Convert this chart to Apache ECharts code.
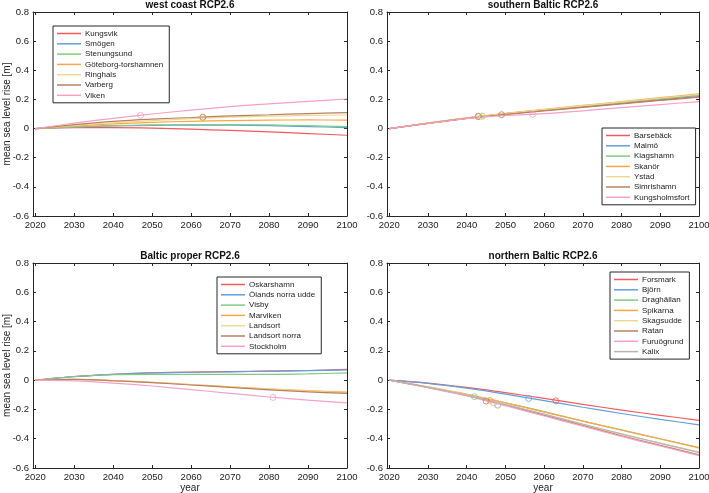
<!DOCTYPE html>
<html>
<head>
<meta charset="utf-8">
<script src="https://cdn.jsdelivr.net/npm/echarts@6/dist/echarts.min.js"></script>
<style>
  html, body { margin: 0; background: #fff; }
  #chart { width: 709px; height: 493px; }
</style>
</head>
<body>
<div id="chart"></div>
<script>
const YEARS = [2020, 2030, 2040, 2050, 2060, 2070, 2080, 2090, 2100];
const X_TICKS = [2020, 2030, 2040, 2050, 2060, 2070, 2080, 2090, 2100];
const COLORS = ['#f25a5d', '#62a0da', '#80cc80', '#ffa546', '#ecd990', '#b98062', '#f6a0c6', '#b5b5b5'];

// west coast
const WEST_NAMES = ['Kungsvik', 'Smögen', 'Stenungsund', 'Göteborg-torshamnen', 'Ringhals', 'Varberg', 'Viken'];
const WEST_VALUES = [
    [0, 0.006, 0.006, 0.003, -0.004, -0.013, -0.023, -0.034, -0.046],
    [0, 0.010, 0.018, 0.022, 0.024, 0.023, 0.020, 0.014, 0.006],
    [0, 0.012, 0.020, 0.025, 0.027, 0.027, 0.025, 0.020, 0.014],
    [0, 0.017, 0.032, 0.043, 0.050, 0.055, 0.058, 0.059, 0.058],
    [0, 0.022, 0.040, 0.055, 0.068, 0.078, 0.085, 0.090, 0.093],
    [0, 0.027, 0.050, 0.065, 0.076, 0.087, 0.095, 0.103, 0.109],
    [0, 0.037, 0.070, 0.100, 0.127, 0.150, 0.170, 0.187, 0.203],
];
// [station index, year, value]
const WEST_MARKS = [[4, 2063, 0.076], [5, 2063, 0.078], [6, 2047, 0.091]];

// southern Baltic
const SOUTH_NAMES = ['Barsebäck', 'Malmö', 'Klagshamn', 'Skanör', 'Ystad', 'Simrishamn', 'Kungsholmsfort'];
const SOUTH_VALUES = [
    [0, 0.036, 0.070, 0.098, 0.124, 0.149, 0.173, 0.197, 0.220],
    [0, 0.037, 0.072, 0.101, 0.128, 0.154, 0.179, 0.204, 0.228],
    [0, 0.037, 0.072, 0.102, 0.129, 0.155, 0.180, 0.205, 0.230],
    [0, 0.038, 0.074, 0.104, 0.132, 0.159, 0.185, 0.212, 0.238],
    [0, 0.037, 0.073, 0.103, 0.131, 0.157, 0.183, 0.209, 0.235],
    [0, 0.036, 0.070, 0.097, 0.122, 0.146, 0.170, 0.193, 0.215],
    [0, 0.035, 0.068, 0.090, 0.102, 0.122, 0.144, 0.165, 0.185],
];
const SOUTH_MARKS = [[0, 2043, 0.083], [1, 2043, 0.084], [3, 2043, 0.085], [2, 2044, 0.085], [4, 2044, 0.086], [5, 2049, 0.095], [6, 2057, 0.098]];

// Baltic proper
const PROPER_NAMES = ['Oskarshamn', 'Ölands norra udde', 'Visby', 'Marviken', 'Landsort', 'Landsort norra', 'Stockholm'];
const PROPER_VALUES = [
    [0, 0.025, 0.040, 0.050, 0.055, 0.058, 0.062, 0.066, 0.073],
    [0, 0.024, 0.039, 0.049, 0.054, 0.057, 0.061, 0.065, 0.070],
    [0, 0.025, 0.037, 0.040, 0.040, 0.040, 0.040, 0.043, 0.049],
    [0, 0.005, -0.003, -0.015, -0.030, -0.045, -0.060, -0.072, -0.082],
    [0, 0.005, -0.003, -0.016, -0.031, -0.047, -0.062, -0.075, -0.086],
    [0, 0.005, -0.004, -0.017, -0.033, -0.050, -0.066, -0.080, -0.091],
    [0, -0.005, -0.020, -0.040, -0.065, -0.090, -0.115, -0.137, -0.155],
];
const PROPER_MARKS = [[6, 2081, -0.118]];

// northern Baltic
const NORTH_NAMES = ['Forsmark', 'Björn', 'Draghällan', 'Spikarna', 'Skagsudde', 'Ratan', 'Furuögrund', 'Kalix'];
const NORTH_VALUES = [
    [0, -0.020, -0.050, -0.085, -0.125, -0.165, -0.205, -0.240, -0.275],
    [0, -0.022, -0.055, -0.095, -0.140, -0.185, -0.228, -0.268, -0.305],
    [0, -0.048, -0.100, -0.155, -0.215, -0.280, -0.340, -0.400, -0.460],
    [0, -0.045, -0.095, -0.155, -0.218, -0.280, -0.342, -0.402, -0.462],
    [0, -0.050, -0.100, -0.165, -0.235, -0.305, -0.370, -0.430, -0.490],
    [0, -0.050, -0.105, -0.170, -0.240, -0.310, -0.380, -0.445, -0.510],
    [0, -0.052, -0.108, -0.175, -0.245, -0.315, -0.385, -0.450, -0.515],
    [0, -0.050, -0.102, -0.167, -0.232, -0.300, -0.367, -0.432, -0.495],
];
const NORTH_MARKS = [[2, 2042, -0.113], [5, 2045, -0.143], [3, 2046, -0.138], [6, 2047, -0.155], [4, 2048, -0.172], [7, 2048, -0.170], [1, 2056, -0.125], [0, 2063, -0.141]];

const FONT = '"Liberation Sans", Arial, sans-serif';
const INK = '#262626';

const panels = [
    { title: 'west coast RCP2.6', names: WEST_NAMES, values: WEST_VALUES, marks: WEST_MARKS },
    { title: 'southern Baltic RCP2.6', names: SOUTH_NAMES, values: SOUTH_VALUES, marks: SOUTH_MARKS },
    { title: 'Baltic proper RCP2.6', names: PROPER_NAMES, values: PROPER_VALUES, marks: PROPER_MARKS },
    { title: 'northern Baltic RCP2.6', names: NORTH_NAMES, values: NORTH_VALUES, marks: NORTH_MARKS },
];
const layout = [
    { grid: { left: 33, top: 12, width: 314, height: 204 }, legend: { left: 53, top: 26 } },
    { grid: { left: 387, top: 12, width: 312, height: 204 }, legend: { left: 602, top: 128 } },
    { grid: { left: 33, top: 263, width: 314, height: 205 }, legend: { left: 217, top: 277 } },
    { grid: { left: 387, top: 263, width: 312, height: 205 }, legend: { left: 610, top: 272 } },
];

const grids = [], xAxes = [], yAxes = [], legends = [], titles = [], series = [];

panels.forEach((p, i) => {
    const g = layout[i].grid;
    grids.push(Object.assign({ outerBoundsMode: 'none', containLabel: false }, g));
    titles.push({
        text: p.title, left: g.left + g.width / 2, top: g.top - 11.5, padding: 0, textAlign: 'center',
        textStyle: { fontFamily: FONT, fontSize: 10, fontWeight: 'bold', color: '#111' },
    });

    const xBase = {
        gridIndex: i, type: 'value', min: 2019.4, max: 2100,
        splitLine: { show: false },
        axisLine: { onZero: false, lineStyle: { color: INK } },
        axisTick: { inside: true, length: 3, customValues: X_TICKS, lineStyle: { color: INK } },
    };
    xAxes.push(Object.assign({}, xBase, {
        position: 'bottom',
        axisLabel: { customValues: X_TICKS, formatter: v => String(v), fontFamily: FONT, fontSize: 9.5, color: '#222', margin: 4 },
        name: i >= 2 ? 'year' : '', nameLocation: 'middle', nameGap: 15, nameMoveOverlap: false,
        nameTextStyle: { fontFamily: FONT, fontSize: 10, color: '#222' },
    }));
    xAxes.push(Object.assign({}, xBase, { position: 'top', axisLabel: { show: false } }));

    const yBase = {
        gridIndex: i, type: 'value', min: -0.6, max: 0.8, interval: 0.2,
        splitLine: { show: false },
        axisLine: { onZero: false, lineStyle: { color: INK } },
        axisTick: { inside: true, length: 3, lineStyle: { color: INK } },
    };
    yAxes.push(Object.assign({}, yBase, {
        position: 'left',
        axisLabel: { fontFamily: FONT, fontSize: 9.5, color: '#222', margin: 4 },
        name: i % 2 === 0 ? 'mean sea level rise [m]' : '', nameLocation: 'middle', nameGap: 21, nameMoveOverlap: false,
        nameTextStyle: { fontFamily: FONT, fontSize: 10, color: '#222' },
    }));
    yAxes.push(Object.assign({}, yBase, { position: 'right', axisLabel: { show: false } }));

    legends.push({
        data: p.names, orient: 'vertical',
        left: layout[i].legend.left, top: layout[i].legend.top,
        icon: 'rect', itemWidth: 24, itemHeight: 1.5, itemGap: 1.3,
        padding: [3, 6, 3, 4],
        borderColor: INK, borderWidth: 1, backgroundColor: '#fff',
        selectedMode: false,
        textStyle: { fontFamily: FONT, fontSize: 8, color: '#222', lineHeight: 9, padding: [0, 0, 0, -1] },
        z: 10,
    });

    p.names.forEach((name, k) => {
        series.push({
            type: 'line', name, xAxisIndex: 2 * i, yAxisIndex: 2 * i,
            data: YEARS.map((yr, j) => [yr, p.values[k][j]]),
            smooth: 0.3, showSymbol: false, silent: true,
            lineStyle: { width: 1.2, color: COLORS[k] }, itemStyle: { color: COLORS[k] },
        });
    });
    p.marks.forEach(([k, yr, v]) => {
        series.push({
            type: 'scatter', name: 'mark-' + i + '-' + k, xAxisIndex: 2 * i, yAxisIndex: 2 * i,
            data: [[yr, v]], symbol: 'circle', symbolSize: 6, silent: true,
            itemStyle: { color: 'rgba(255,255,255,0)', borderColor: COLORS[k], borderWidth: 1 },
            z: 3,
        });
    });
});

const chart = echarts.init(document.getElementById('chart'));
chart.setOption({
    animation: false,
    backgroundColor: '#fff',
    title: titles,
    grid: grids,
    xAxis: xAxes,
    yAxis: yAxes,
    legend: legends,
    series,
});
window.addEventListener('resize', () => chart.resize());
</script>
</body>
</html>
